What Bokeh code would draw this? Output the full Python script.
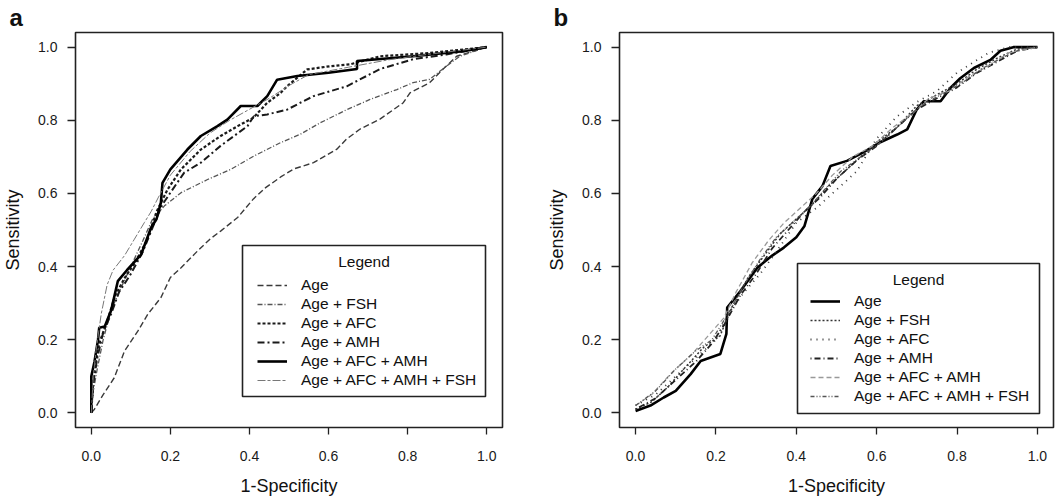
from bokeh.plotting import figure
from bokeh.layouts import row
from bokeh.models import (Range1d, FixedTicker, PrintfTickFormatter, Legend, LegendItem,
                          Label, BoxAnnotation, Title)
from bokeh.embed import file_html
from bokeh.resources import INLINE

# ---------------- data ----------------
tick_values = [0.0, 0.2, 0.4, 0.6, 0.8, 1.0]
series_labels = ["Age", "Age + FSH", "Age + AFC", "Age + AMH", "Age + AFC + AMH", "Age + AFC + AMH + FSH"]
legend_title = "Legend"
x_title = "1-Specificity"
y_title = "Sensitivity"
panel_letters = ["a", "b"]

# Panel a
a_age_x = [0, 0.008, 0.03, 0.058, 0.084, 0.118, 0.143, 0.176, 0.2, 0.227, 0.269, 0.30, 0.327, 0.37, 0.41, 0.44, 0.479, 0.512, 0.562, 0.621, 0.646, 0.68, 0.73, 0.789, 0.806, 0.856, 0.89, 0.924, 1.0]
a_age_y = [0, 0.01, 0.05, 0.096, 0.169, 0.224, 0.27, 0.315, 0.37, 0.397, 0.443, 0.475, 0.497, 0.534, 0.585, 0.615, 0.645, 0.667, 0.684, 0.721, 0.749, 0.776, 0.803, 0.848, 0.875, 0.903, 0.94, 0.975, 1.0]

a_fsh_x = [0, 0.005, 0.015, 0.03, 0.05, 0.07, 0.10, 0.13, 0.155, 0.185, 0.227, 0.294, 0.353, 0.411, 0.479, 0.529, 0.579, 0.646, 0.705, 0.773, 0.814, 0.856, 0.898, 0.932, 1.0]
a_fsh_y = [0, 0.06, 0.12, 0.20, 0.28, 0.33, 0.40, 0.47, 0.53, 0.566, 0.602, 0.638, 0.666, 0.702, 0.739, 0.762, 0.793, 0.829, 0.857, 0.884, 0.903, 0.912, 0.948, 0.975, 1.0]

a_afc_x = [0, 0.003, 0.01, 0.02, 0.04, 0.06, 0.085, 0.11, 0.14, 0.165, 0.193, 0.227, 0.277, 0.327, 0.37, 0.41, 0.445, 0.479, 0.495, 0.546, 0.605, 0.655, 0.73, 0.856, 1.0]
a_afc_y = [0, 0.07, 0.13, 0.19, 0.25, 0.32, 0.37, 0.41, 0.47, 0.55, 0.611, 0.666, 0.72, 0.757, 0.784, 0.807, 0.848, 0.875, 0.893, 0.939, 0.948, 0.953, 0.975, 0.984, 1.0]

a_amh_x = [0, 0.005, 0.015, 0.03, 0.05, 0.07, 0.10, 0.13, 0.16, 0.18, 0.2, 0.235, 0.277, 0.327, 0.361, 0.395, 0.411, 0.445, 0.495, 0.529, 0.562, 0.646, 0.73, 0.814, 0.898, 1.0]
a_amh_y = [0, 0.08, 0.15, 0.22, 0.27, 0.33, 0.38, 0.44, 0.52, 0.57, 0.602, 0.657, 0.684, 0.73, 0.757, 0.784, 0.811, 0.816, 0.829, 0.848, 0.866, 0.893, 0.94, 0.967, 0.98, 1.0]

a_afc_amh_x = [0, 0.0, 0.008, 0.017, 0.02, 0.034, 0.05, 0.067, 0.09, 0.126, 0.151, 0.165, 0.176, 0.18, 0.2, 0.243, 0.277, 0.319, 0.344, 0.378, 0.42, 0.445, 0.47, 0.521, 0.60, 0.672, 0.672, 0.814, 0.94, 1.0]
a_afc_amh_y = [0, 0.10, 0.14, 0.20, 0.233, 0.236, 0.28, 0.36, 0.39, 0.433, 0.506, 0.53, 0.575, 0.629, 0.666, 0.72, 0.757, 0.784, 0.802, 0.839, 0.839, 0.866, 0.911, 0.921, 0.93, 0.94, 0.962, 0.975, 0.989, 1.0]

a_all_x = [0, 0.005, 0.012, 0.025, 0.04, 0.055, 0.084, 0.109, 0.134, 0.151, 0.17, 0.2, 0.25, 0.30, 0.35, 0.40, 0.45, 0.50, 0.55, 0.65, 0.75, 0.85, 1.0]
a_all_y = [0, 0.10, 0.17, 0.27, 0.35, 0.39, 0.43, 0.475, 0.52, 0.55, 0.59, 0.65, 0.715, 0.765, 0.80, 0.83, 0.86, 0.895, 0.925, 0.945, 0.965, 0.98, 1.0]

# Panel b
b_age_x = [0, 0.037, 0.07, 0.10, 0.137, 0.162, 0.211, 0.226, 0.228, 0.261, 0.303, 0.34, 0.369, 0.40, 0.42, 0.44, 0.465, 0.485, 0.526, 0.568, 0.609, 0.651, 0.676, 0.70, 0.717, 0.759, 0.784, 0.808, 0.842, 0.883, 0.908, 0.94, 1.0]
b_age_y = [0.005, 0.02, 0.042, 0.06, 0.106, 0.142, 0.161, 0.216, 0.288, 0.333, 0.397, 0.43, 0.452, 0.48, 0.51, 0.585, 0.62, 0.675, 0.689, 0.713, 0.74, 0.761, 0.775, 0.83, 0.852, 0.852, 0.889, 0.915, 0.943, 0.965, 0.99, 1.0, 1.0]

b_fsh_x = [0, 0.04, 0.08, 0.12, 0.17, 0.21, 0.24, 0.28, 0.32, 0.36, 0.40, 0.44, 0.48, 0.52, 0.56, 0.60, 0.65, 0.70, 0.75, 0.80, 0.85, 0.90, 0.95, 1.0]
b_fsh_y = [0.01, 0.03, 0.07, 0.12, 0.18, 0.21, 0.29, 0.37, 0.43, 0.49, 0.53, 0.57, 0.62, 0.66, 0.70, 0.74, 0.78, 0.84, 0.87, 0.90, 0.94, 0.97, 0.995, 1.0]

b_afc_x = [0, 0.05, 0.10, 0.15, 0.20, 0.23, 0.27, 0.31, 0.35, 0.40, 0.45, 0.50, 0.55, 0.60, 0.65, 0.70, 0.75, 0.80, 0.85, 0.88, 0.93, 1.0]
b_afc_y = [0.02, 0.05, 0.10, 0.15, 0.20, 0.27, 0.33, 0.38, 0.44, 0.52, 0.56, 0.61, 0.66, 0.75, 0.81, 0.85, 0.88, 0.93, 0.965, 0.985, 1.0, 1.0]

b_amh_x = [0, 0.05, 0.10, 0.15, 0.19, 0.22, 0.26, 0.30, 0.34, 0.38, 0.42, 0.46, 0.50, 0.55, 0.60, 0.65, 0.70, 0.75, 0.80, 0.85, 0.90, 0.95, 1.0]
b_amh_y = [0.01, 0.04, 0.09, 0.14, 0.19, 0.24, 0.32, 0.38, 0.45, 0.50, 0.55, 0.59, 0.64, 0.69, 0.73, 0.78, 0.83, 0.86, 0.89, 0.93, 0.96, 0.99, 1.0]

b_afc_amh_x = [0, 0.04, 0.09, 0.14, 0.18, 0.22, 0.25, 0.29, 0.33, 0.37, 0.41, 0.45, 0.49, 0.54, 0.59, 0.64, 0.69, 0.73, 0.78, 0.83, 0.88, 0.93, 1.0]
b_afc_amh_y = [0.02, 0.05, 0.11, 0.16, 0.21, 0.26, 0.33, 0.41, 0.47, 0.52, 0.56, 0.60, 0.65, 0.70, 0.73, 0.78, 0.82, 0.86, 0.88, 0.92, 0.95, 0.985, 1.0]

b_all_x = [0, 0.05, 0.10, 0.15, 0.19, 0.23, 0.27, 0.31, 0.35, 0.39, 0.43, 0.47, 0.51, 0.56, 0.61, 0.66, 0.71, 0.76, 0.81, 0.86, 0.91, 0.96, 1.0]
b_all_y = [0.02, 0.06, 0.12, 0.17, 0.20, 0.27, 0.35, 0.42, 0.48, 0.52, 0.56, 0.61, 0.66, 0.70, 0.74, 0.79, 0.84, 0.87, 0.90, 0.94, 0.97, 0.995, 1.0]

FONT = "Liberation Sans"


def make_panel(letter, border_left, border_right):
    p = figure(width=530, height=501, output_backend="svg", toolbar_location=None,
               x_range=Range1d(-0.04, 1.04), y_range=Range1d(-0.04, 1.04),
               min_border_left=border_left, min_border_right=border_right,
               min_border_top=31, min_border_bottom=74)
    p.grid.visible = False
    p.outline_line_color = "#222222"
    p.outline_line_width = 1.6
    p.background_fill_color = "white"
    p.border_fill_color = "white"
    for ax in (p.xaxis[0], p.yaxis[0]):
        ax.ticker = FixedTicker(ticks=tick_values, minor_ticks=[])
        ax.formatter = PrintfTickFormatter(format="%.1f")
        ax.axis_line_color = None
        ax.major_tick_line_color = "#222222"
        ax.major_tick_line_width = 1.3
        ax.major_tick_in = 0
        ax.major_label_text_font = FONT
        ax.major_label_text_font_size = "14px"
        ax.major_label_text_color = "#1a1a1a"
        ax.axis_label_text_font = FONT
        ax.axis_label_text_font_size = "18px"
        ax.axis_label_text_font_style = "normal"
        ax.axis_label_text_color = "#111111"
    p.xaxis.major_tick_out = 7
    p.xaxis.major_label_standoff = 16
    p.xaxis.axis_label_standoff = 12
    p.yaxis.major_tick_out = 8
    p.yaxis.major_label_standoff = 10
    p.yaxis.axis_label_standoff = 12
    p.xaxis.axis_label = x_title
    p.yaxis.axis_label = y_title
    # panel letter as a compact title that fits inside the 31px top border
    p.title = Title(text=letter, text_font=FONT, text_font_size="24px",
                    text_font_style="bold", align="left", offset=-66, standoff=3,
                    text_color="#111111")
    return p


def add_legend(p, renderers, left, right, bottom, top, title_y, glyph_x, rows_y):
    # legend frame (screen units relative to the plot frame)
    p.add_layout(BoxAnnotation(left=left, right=right, bottom=bottom, top=top,
                               left_units="screen", right_units="screen",
                               bottom_units="screen", top_units="screen",
                               fill_color="white", fill_alpha=1.0,
                               line_color="#222222", line_alpha=1.0, line_width=1.6,
                               level="annotation"))
    p.add_layout(Label(x=(left + right) / 2, y=title_y, x_units="screen", y_units="screen",
                       text=legend_title, text_font=FONT, text_font_size="15.5px",
                       text_align="center", text_baseline="middle", text_color="#111111"))
    items = [LegendItem(label=lab, renderers=[r]) for lab, r in zip(series_labels, renderers)]
    lg = Legend(items=items, location=(glyph_x, rows_y),
                label_text_font=FONT, label_text_font_size="15.5px", label_text_color="#111111",
                label_standoff=14, glyph_width=30, glyph_height=16, label_height=16,
                spacing=1, padding=0, margin=0,
                border_line_color=None, background_fill_alpha=0.0)
    p.add_layout(lg)


# ---------- panel a ----------
pa = make_panel(panel_letters[0], 74, 28)
ra = [
    pa.line(a_age_x, a_age_y, line_color="#3a3a3a", line_width=1.4, line_dash="6 3"),
    pa.line(a_fsh_x, a_fsh_y, line_color="#555555", line_width=1.3, line_dash="5 2 1 2"),
    pa.line(a_afc_x, a_afc_y, line_color="#1a1a1a", line_width=2.2, line_dash="3 2"),
    pa.line(a_amh_x, a_amh_y, line_color="#1a1a1a", line_width=2.0, line_dash="7 3 2 3"),
    pa.line(a_afc_amh_x, a_afc_amh_y, line_color="#000000", line_width=2.6),
    pa.line(a_all_x, a_all_y, line_color="#777777", line_width=1.0, line_dash="8 2 3 2"),
]
add_legend(pa, ra, 167, 410, 31, 182, 166, 182, 38)

# ---------- panel b ----------
pb = make_panel(panel_letters[1], 89, 7)
rb = [
    pb.line(b_age_x, b_age_y, line_color="#000000", line_width=2.6),
    pb.line(b_fsh_x, b_fsh_y, line_color="#333333", line_width=1.5, line_dash="2 2"),
    pb.line(b_afc_x, b_afc_y, line_color="#333333", line_width=1.8, line_dash="1 5"),
    pb.line(b_amh_x, b_amh_y, line_color="#222222", line_width=1.8, line_dash="1 3 6 3"),
    pb.line(b_afc_amh_x, b_afc_amh_y, line_color="#999999", line_width=1.3, line_dash="5 3"),
    pb.line(b_all_x, b_all_y, line_color="#555555", line_width=1.3, line_dash="4 2 1 2 1 2"),
]
add_legend(pb, rb, 178, 420, 14, 164, 148, 191, 22)

layout = row(pa, pb, spacing=0)
open("out.html", "w").write(file_html(layout, INLINE))
